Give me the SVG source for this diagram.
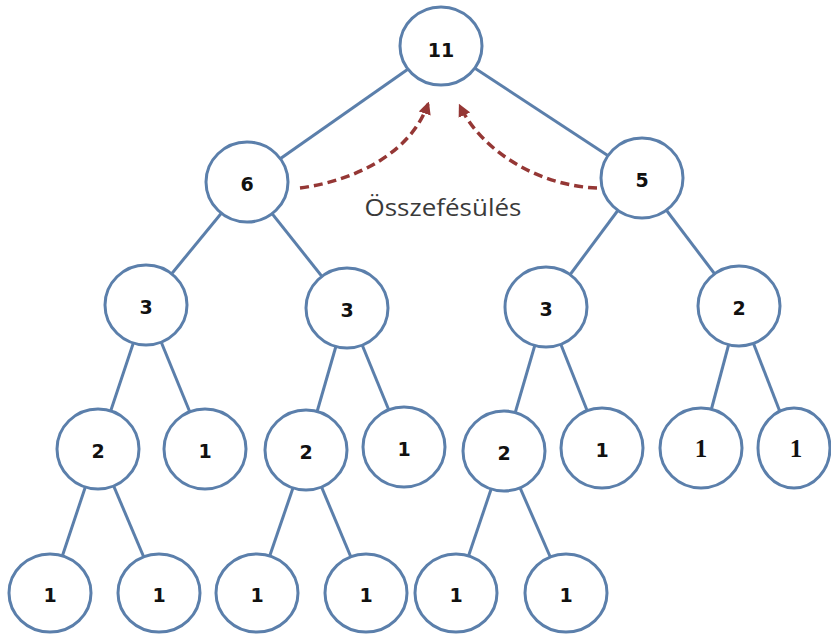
<svg xmlns="http://www.w3.org/2000/svg" width="831" height="634" viewBox="0 0 831 634">
<style>
.e{stroke:#5b7fab;stroke-width:3;fill:none}
.n ellipse{fill:#fff;stroke:#5b7fab;stroke-width:3}
.n text{font-family:"DejaVu Sans",sans-serif;font-weight:bold;font-size:19px;fill:#111;text-anchor:middle}
.n text.s{font-family:"Liberation Serif",serif;font-size:25px}
.d{stroke:#953735;stroke-width:3.5;fill:none;stroke-dasharray:9 5}
</style>
<defs>
<marker id="ah" viewBox="0 0 10 10" refX="8" refY="5" markerWidth="3.6" markerHeight="3.6" orient="auto" markerUnits="strokeWidth">
<path d="M0,0 L10,5 L0,10 z" fill="#953735"/>
</marker>
</defs>
<rect width="831" height="634" fill="#fff"/>
<g id="connectors">
<line class="e" x1="441" y1="46" x2="247" y2="182"/>
<line class="e" x1="441" y1="46" x2="642" y2="178"/>
<line class="e" x1="247" y1="182" x2="146" y2="305"/>
<line class="e" x1="247" y1="182" x2="347" y2="308"/>
<line class="e" x1="642" y1="178" x2="546" y2="307"/>
<line class="e" x1="642" y1="178" x2="739" y2="306"/>
<line class="e" x1="146" y1="305" x2="98" y2="449"/>
<line class="e" x1="146" y1="305" x2="205" y2="449"/>
<line class="e" x1="347" y1="308" x2="306" y2="450"/>
<line class="e" x1="347" y1="308" x2="404" y2="447"/>
<line class="e" x1="546" y1="307" x2="504" y2="451"/>
<line class="e" x1="546" y1="307" x2="602" y2="448"/>
<line class="e" x1="739" y1="306" x2="701" y2="448"/>
<line class="e" x1="739" y1="306" x2="794" y2="448"/>
<line class="e" x1="98" y1="449" x2="50" y2="593"/>
<line class="e" x1="98" y1="449" x2="159" y2="593"/>
<line class="e" x1="306" y1="450" x2="257" y2="593"/>
<line class="e" x1="306" y1="450" x2="366" y2="593"/>
<line class="e" x1="504" y1="451" x2="456" y2="593"/>
<line class="e" x1="504" y1="451" x2="566" y2="593"/>
<path class="d" d="M300,188 C360,180 412,150 428,104" marker-end="url(#ah)"/>
<path class="d" d="M597,188 C540,186 482,152 460,106" marker-end="url(#ah)"/>
</g>
<g id="n11" class="n"><ellipse cx="441" cy="46" rx="41" ry="39"/><text x="441" y="57">11</text></g>
<g id="n6" class="n"><ellipse cx="247" cy="182" rx="41" ry="40"/><text x="247" y="191">6</text></g>
<g id="n5" class="n"><ellipse cx="642" cy="178" rx="41" ry="40"/><text x="642" y="187">5</text></g>
<g id="n3a" class="n"><ellipse cx="146" cy="305" rx="41" ry="40"/><text x="146" y="314">3</text></g>
<g id="n3b" class="n"><ellipse cx="347" cy="308" rx="41" ry="40"/><text x="347" y="317">3</text></g>
<g id="n3c" class="n"><ellipse cx="546" cy="307" rx="41" ry="40"/><text x="546" y="316">3</text></g>
<g id="n2d" class="n"><ellipse cx="739" cy="306" rx="41" ry="40"/><text x="739" y="315">2</text></g>
<g id="n2a" class="n"><ellipse cx="98" cy="449" rx="41" ry="40"/><text x="98" y="458">2</text></g>
<g id="n1a" class="n"><ellipse cx="205" cy="449" rx="41" ry="40"/><text x="205" y="458">1</text></g>
<g id="n2b" class="n"><ellipse cx="306" cy="450" rx="41" ry="40"/><text x="306" y="459">2</text></g>
<g id="n1b" class="n"><ellipse cx="404" cy="447" rx="41" ry="40"/><text x="404" y="456">1</text></g>
<g id="n2c" class="n"><ellipse cx="504" cy="451" rx="41" ry="40"/><text x="504" y="460">2</text></g>
<g id="n1c" class="n"><ellipse cx="602" cy="448" rx="41" ry="40"/><text x="602" y="457">1</text></g>
<g id="n1d" class="n"><ellipse cx="701" cy="448" rx="41" ry="40"/><text class="s" x="701" y="457">1</text></g>
<g id="n1e" class="n"><ellipse cx="794" cy="448" rx="36" ry="40"/><text class="s" x="796" y="457">1</text></g>
<g id="l1" class="n"><ellipse cx="50" cy="593" rx="41" ry="39"/><text x="50" y="602">1</text></g>
<g id="l2" class="n"><ellipse cx="159" cy="593" rx="41" ry="39"/><text x="159" y="602">1</text></g>
<g id="l3" class="n"><ellipse cx="257" cy="593" rx="41" ry="39"/><text x="257" y="602">1</text></g>
<g id="l4" class="n"><ellipse cx="366" cy="593" rx="41" ry="39"/><text x="366" y="602">1</text></g>
<g id="l5" class="n"><ellipse cx="456" cy="593" rx="41" ry="39"/><text x="456" y="602">1</text></g>
<g id="l6" class="n"><ellipse cx="566" cy="593" rx="41" ry="39"/><text x="566" y="602">1</text></g>
<text x="443" y="216" font-family="'Open Sans',sans-serif" font-size="24" fill="#3a3a3a" text-anchor="middle" textLength="157" lengthAdjust="spacingAndGlyphs">Összefésülés</text>
</svg>
